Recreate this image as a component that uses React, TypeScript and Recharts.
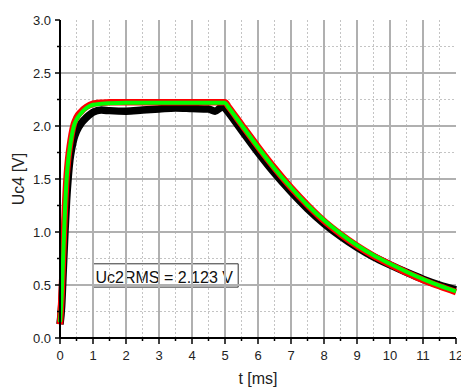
import React from "react";
import {
  LineChart,
  Line,
  XAxis,
  YAxis,
  ReferenceLine,
  ReferenceArea,
} from "recharts";

// time axis [ms]
const timeMs = [
  0, 0.05, 0.1, 0.15, 0.2, 0.25, 0.3, 0.35, 0.42, 0.5, 0.65, 0.8, 1, 1.25, 1.5,
  2, 2.5, 3, 3.5, 4, 4.5, 4.7, 4.85, 4.95, 5, 5.1, 5.5, 6, 6.5, 7, 7.5, 8, 8.5,
  9, 9.5, 10, 10.5, 11, 11.5, 12,
];

// measured (thick black, noisy)
const measured = [
  0.13, 0.3, 0.65, 1.0, 1.3, 1.52, 1.68, 1.78, 1.88, 1.95, 2.03, 2.08, 2.13,
  2.15, 2.145, 2.14, 2.15, 2.16, 2.17, 2.165, 2.16, 2.14, 2.17, 2.19, 2.17,
  2.13, 1.96, 1.75, 1.555, 1.38, 1.22, 1.08, 0.96, 0.855, 0.765, 0.69, 0.62,
  0.555, 0.5, 0.455,
];

// red curve
const simRed = [
  0.13, 0.42, 0.83, 1.23, 1.52, 1.7, 1.82, 1.92, 2.02, 2.08, 2.14, 2.18, 2.21,
  2.22, 2.225, 2.225, 2.225, 2.225, 2.225, 2.225, 2.225, 2.225, 2.225, 2.225,
  2.225, 2.185, 2.015, 1.805, 1.605, 1.42, 1.255, 1.105, 0.98, 0.87, 0.775,
  0.695, 0.618, 0.548, 0.488, 0.433,
];

// green curve
const simGreen = [
  0.15, 0.4, 0.8, 1.2, 1.5, 1.68, 1.8, 1.9, 2.0, 2.06, 2.125, 2.17, 2.2, 2.21,
  2.215, 2.22, 2.22, 2.22, 2.22, 2.22, 2.22, 2.22, 2.22, 2.22, 2.22, 2.18,
  2.01, 1.8, 1.6, 1.42, 1.255, 1.11, 0.985, 0.875, 0.78, 0.7, 0.625, 0.555,
  0.495, 0.44,
];

const xTicks = [
  0, 0.5, 1, 1.5, 2, 2.5, 3, 3.5, 4, 4.5, 5, 5.5, 6, 6.5, 7, 7.5, 8, 8.5, 9,
  9.5, 10, 10.5, 11, 11.5, 12,
];
const yTicks = [
  0, 0.25, 0.5, 0.75, 1, 1.25, 1.5, 1.75, 2, 2.25, 2.5, 2.75, 3,
];
const xMajorGrid = [1, 2, 3, 4, 5, 6, 7, 8, 9, 10, 11];
const xMinorGrid = [
  0.5, 1.5, 2.5, 3.5, 4.5, 5.5, 6.5, 7.5, 8.5, 9.5, 10.5, 11.5,
];
const yMajorGrid = [0.5, 1, 1.5, 2, 2.5];
const yMinorGrid = [0.25, 0.75, 1.25, 1.75, 2.25, 2.75];

const annotationText = "Uc2RMS = 2.123 V";
const annotationX = [1.0, 5.4];
const annotationY = [0.48, 0.7];

const data = timeMs.map((t, i) => ({
  t,
  measured: measured[i],
  red: simRed[i],
  green: simGreen[i],
}));

const FONT = "'Liberation Sans', Arial, sans-serif";

const isWhole = (v: number) => Math.abs(v - Math.round(v)) < 1e-6;

const XTick = ({ x, y, payload }: any) => {
  const major = isWhole(payload.value);
  return (
    <g>
      <line x1={x} y1={y} x2={x} y2={y + (major ? 6 : 3)} stroke="#000" strokeWidth={1.5} />
      {major && (
        <text x={x} y={y + 22} textAnchor="middle" fontSize={13} fontFamily={FONT} fill="#222">
          {payload.value}
        </text>
      )}
    </g>
  );
};

const YTick = ({ x, y, payload }: any) => {
  const major = isWhole(payload.value * 2);
  return (
    <g>
      <line x1={x} y1={y} x2={x - (major ? 5 : 3)} y2={y} stroke="#000" strokeWidth={1.5} />
      {major && (
        <text x={x - 9} y={y + 4.5} textAnchor="end" fontSize={13} fontFamily={FONT} fill="#222">
          {payload.value.toFixed(1)}
        </text>
      )}
    </g>
  );
};

export default function App() {
  return (
    <div style={{ position: "absolute", left: 0, top: 0, width: 461, height: 387, background: "#fff" }}>
      <LineChart
        width={461}
        height={387}
        data={data}
        margin={{ top: 20, right: 5, left: 0, bottom: 0 }}
      >
        <XAxis
          dataKey="t"
          type="number"
          domain={[0, 12]}
          ticks={xTicks}
          interval={0}
          height={49}
          tickSize={0}
          tickMargin={0}
          tickLine={false}
          tick={XTick}
          axisLine={{ stroke: "#000", strokeWidth: 2 }}
          label={{
            content: ({ viewBox }: any) => (
              <text
                x={viewBox.x + viewBox.width / 2}
                y={viewBox.y + 46}
                textAnchor="middle"
                fontSize={16}
                fontFamily={FONT}
                fill="#222"
              >
                t [ms]
              </text>
            ),
          }}
        />
        <YAxis
          type="number"
          domain={[0, 3]}
          ticks={yTicks}
          interval={0}
          width={60}
          tickSize={0}
          tickMargin={0}
          tickLine={false}
          tick={YTick}
          axisLine={{ stroke: "#000", strokeWidth: 2 }}
          label={{
            content: ({ viewBox }: any) => {
              const cx = viewBox.x + 23.5;
              const cy = viewBox.y + viewBox.height / 2;
              return (
                <text
                  x={cx}
                  y={cy}
                  transform={`rotate(-90 ${cx} ${cy})`}
                  textAnchor="middle"
                  fontSize={16}
                  fontFamily={FONT}
                  fill="#222"
                >
                  Uc4 [V]
                </text>
              );
            },
          }}
        />
        {xMinorGrid.map((v) => (
          <ReferenceLine key={"xm" + v} x={v} stroke="#c4c4c4" strokeDasharray="2 2" strokeWidth={1} />
        ))}
        {yMinorGrid.map((v) => (
          <ReferenceLine key={"ym" + v} y={v} stroke="#c4c4c4" strokeDasharray="2 2" strokeWidth={1} />
        ))}
        {xMajorGrid.map((v) => (
          <ReferenceLine key={"xM" + v} x={v} stroke="#b0b0b0" strokeWidth={2} />
        ))}
        {yMajorGrid.map((v) => (
          <ReferenceLine key={"yM" + v} y={v} stroke="#b0b0b0" strokeWidth={2} />
        ))}
        <ReferenceArea
          x1={annotationX[0]}
          x2={annotationX[1]}
          y1={annotationY[0]}
          y2={annotationY[1]}
          fill="#fff"
          fillOpacity={1}
          stroke="#333"
          strokeWidth={1}
          label={{
            content: ({ viewBox }: any) => (
              <text
                x={viewBox.x + 2.5}
                y={viewBox.y + viewBox.height - 4.5}
                fontSize={16}
                fontFamily={FONT}
                fill="#111"
              >
                {annotationText}
              </text>
            ),
          }}
        />
        <Line
          type="monotone"
          dataKey="measured"
          stroke="#000"
          strokeWidth={7.5}
          dot={false}
          isAnimationActive={false}
        />
        <Line
          type="monotone"
          dataKey="red"
          stroke="#ff0000"
          strokeWidth={6.5}
          dot={false}
          isAnimationActive={false}
        />
        <Line
          type="monotone"
          dataKey="green"
          stroke="#00ff00"
          strokeWidth={4}
          dot={false}
          isAnimationActive={false}
        />
      </LineChart>
    </div>
  );
}
